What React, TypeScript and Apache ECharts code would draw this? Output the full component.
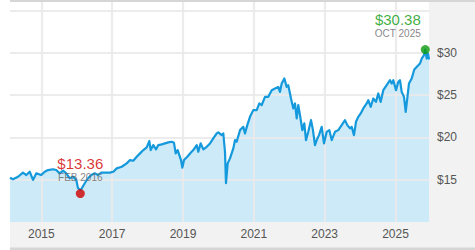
import React, { useEffect, useRef } from "react";
import * as echarts from "echarts";

// decimal years
const dates: number[] = [
  2014.116, 2014.201, 2014.342, 2014.483, 2014.577, 2014.673, 2014.766, 2014.859,
  2015.0, 2015.096, 2015.189, 2015.33, 2015.423, 2015.519, 2015.613, 2015.706, 2015.802, 2015.895, 2015.988,
  2016.036, 2016.101, 2016.129, 2016.225, 2016.318, 2016.412, 2016.508, 2016.601, 2016.694, 2016.835, 2016.94,
  2017.033, 2017.129, 2017.27, 2017.411, 2017.504, 2017.597, 2017.693, 2017.787, 2017.88, 2017.976,
  2018.049, 2018.089, 2018.162, 2018.238, 2018.303, 2018.399, 2018.492, 2018.586, 2018.682, 2018.746,
  2018.794, 2018.851, 2018.896, 2018.944, 2018.981,
  2019.029, 2019.122, 2019.218, 2019.291, 2019.387, 2019.432, 2019.5, 2019.574, 2019.67, 2019.763, 2019.856,
  2019.952, 2019.997,
  2020.093, 2020.138, 2020.186, 2020.214, 2020.262, 2020.327, 2020.421, 2020.469, 2020.517, 2020.61, 2020.703,
  2020.751, 2020.816, 2020.892, 2020.985,
  2021.081, 2021.155, 2021.222, 2021.316, 2021.409, 2021.505, 2021.598, 2021.691, 2021.739, 2021.787, 2021.861,
  2021.928, 2021.973,
  2022.05, 2022.115, 2022.163, 2022.211, 2022.256, 2022.304, 2022.369, 2022.425, 2022.473, 2022.538, 2022.614,
  2022.662, 2022.727, 2022.775, 2022.84, 2022.916, 2022.981,
  2023.058, 2023.131, 2023.199, 2023.292, 2023.385, 2023.481, 2023.574, 2023.639, 2023.715, 2023.763, 2023.828,
  2023.885, 2023.95,
  2024.018, 2024.091, 2024.187, 2024.232, 2024.3, 2024.373, 2024.449, 2024.514, 2024.582, 2024.655, 2024.751,
  2024.845, 2024.893, 2024.938,
  2025.014, 2025.079, 2025.127, 2025.175, 2025.24, 2025.288, 2025.333, 2025.381, 2025.457, 2025.531, 2025.616,
  2025.692, 2025.74, 2025.805, 2025.841, 2025.881, 2025.918, 2025.946,
];

const prices: number[] = [
  15.24, 15.05, 15.35, 15.83, 15.55, 15.94, 14.97, 15.75,
  15.55, 15.94, 16.14, 16.23, 16.14, 15.75, 16.06, 15.75, 15.17, 15.36, 14.97,
  13.99, 13.79, 13.87, 14.58, 15.17, 15.55, 15.75, 15.55, 15.83, 15.83, 15.83,
  15.94, 16.34, 16.53, 16.93, 17.32, 17.24, 17.71, 18.11, 18.5, 18.82,
  19.56, 18.5, 19.09, 18.58, 19.09, 19.17, 19.29, 19.41, 19.48, 19.36,
  18.11, 18.5, 17.91, 17.32, 16.42,
  17.32, 17.71, 18.18, 18.5, 19.09, 18.3, 19.29, 18.58, 18.89, 19.29, 19.88,
  20.47, 20.6,
  20.27, 20.47, 18.3, 14.58, 16.93, 17.52, 18.7, 19.68, 19.48, 20.86, 21.25,
  20.47, 21.45, 22.43, 23.22,
  23.22, 24.01, 23.81, 24.79, 24.79, 25.58, 25.78, 25.97, 25.38, 26.37, 26.96,
  25.97, 26.17,
  24.6, 23.42, 24.01, 22.24, 23.81, 22.63, 20.86, 21.65, 19.68, 20.66, 22.04,
  21.06, 19.09, 19.68, 20.27, 21.25, 19.29,
  20.66, 20.86, 19.68, 20.66, 20.86, 21.45, 22.04, 21.45, 21.06, 21.25, 20.27,
  21.84, 22.43,
  22.83, 23.42, 24.01, 24.4, 23.61, 24.6, 24.2, 25.19, 24.2, 25.58, 26.17,
  26.76, 26.37, 26.76,
  25.58, 26.56, 26.76, 25.38, 24.79, 23.02, 24.6, 26.37, 26.96, 28.02, 28.41,
  28.73, 29.32, 29.71, 30.38, 29.32, 29.9, 29.2,
];

const markerDates: number[] = [2016.101, 2025.841];
const markerValues: number[] = [13.36, 30.38];
const markerLabels: string[] = ["FEB 2016", "OCT 2025"];
const markerColors: string[] = ["#d10000", "#0c9a0c"];

const yearTicks: number[] = [2015, 2017, 2019, 2021, 2023, 2025];
const priceTicks: number[] = [15, 20, 25, 30, 35];
const priceLabels: number[] = [15, 20, 25, 30];

const X_MIN = 2014.116;
const X_MAX = 2025.946;
const Y_MIN = 10;
const Y_MAX = 36;

const FONT = "'Liberation Sans', Arial, sans-serif";
const GRID_COLOR = "rgba(234,234,234,0.9)";

export default function App() {
  const ref = useRef<HTMLDivElement>(null);

  useEffect(() => {
    if (!ref.current) return;
    const chart = echarts.init(ref.current, undefined, { renderer: "svg" });
    const seriesData = dates.map((d, i) => [d, prices[i]]);

    const gridLines: any[] = [
      ...priceTicks.map((v) => ({ yAxis: v, label: { show: false } })),
      ...yearTicks.map((y) => ({
        xAxis: y,
        label: {
          show: true,
          position: "start",
          distance: 6,
          formatter: String(y),
          color: "#555",
          fontSize: 12,
          fontFamily: FONT,
        },
      })),
    ];

    const markerData = markerDates.map((d, i) => ({
      value: [d, markerValues[i]],
      itemStyle: { color: markerColors[i] },
      label: {
        show: true,
        position: i === 0 ? [4.5, -5] : [0, -5],
        align: i === 0 ? "center" : "right",
        verticalAlign: "bottom",
        formatter: `{v|$${markerValues[i].toFixed(2)}}\n{d|${markerLabels[i]}}`,
        rich: {
          v: { fontSize: 15, lineHeight: 16, color: markerColors[i], fontFamily: FONT, align: i === 0 ? "center" : "right" },
          d: { fontSize: 10, lineHeight: 13, color: "#666", fontFamily: FONT, align: i === 0 ? "center" : "right" },
        },
      },
    }));

    chart.setOption({
      animation: false,
      backgroundColor: "#f2f2f2",
      grid: {
        left: 10,
        right: 46,
        top: 2,
        bottom: 28,
        show: true,
        backgroundColor: "#ffffff",
        borderWidth: 0,
      },
      graphic: [
        { type: "rect", shape: { x: 0, y: 0, width: 10, height: 250 }, style: { fill: "#ffffff" }, silent: true },
        { type: "rect", shape: { x: 10, y: 0, width: 465, height: 2 }, style: { fill: "#d6d6d6" }, silent: true },
        { type: "rect", shape: { x: 10, y: 247.5, width: 465, height: 2.5 }, style: { fill: "#d6d6d6" }, silent: true },
      ],
      xAxis: {
        type: "value",
        min: X_MIN,
        max: X_MAX,
        show: false,
        splitLine: { show: false },
      },
      yAxis: {
        type: "value",
        position: "right",
        min: Y_MIN,
        max: Y_MAX,
        interval: 5,
        axisLine: { show: false },
        axisTick: { show: false },
        splitLine: { show: false },
        axisLabel: {
          margin: 8,
          color: "#555",
          fontSize: 12,
          fontFamily: FONT,
          formatter: (v: number) => (priceLabels.includes(v) ? "$" + v : ""),
        },
      },
      series: [
        {
          type: "line",
          data: seriesData,
          showSymbol: false,
          symbol: "none",
          z: 1,
          lineStyle: { width: 0 },
          areaStyle: { color: "#cdeaf8", opacity: 1 },
          silent: true,
          markLine: {
            silent: true,
            z: 2,
            symbol: ["none", "none"],
            lineStyle: { color: GRID_COLOR, width: 2.2, type: "solid" },
            emphasis: { disabled: true },
            data: gridLines,
          },
        },
        {
          type: "line",
          data: seriesData,
          showSymbol: false,
          symbol: "none",
          z: 3,
          lineStyle: { color: "#1499dc", width: 2.2, join: "round" },
          silent: true,
        },
        {
          type: "scatter",
          data: markerData,
          symbolSize: 9,
          z: 4,
          silent: true,
        },
      ],
    });

    return () => chart.dispose();
  }, []);

  return (
    <div
      ref={ref}
      style={{ position: "fixed", left: 0, top: 0, width: 475, height: 250 }}
    />
  );
}
